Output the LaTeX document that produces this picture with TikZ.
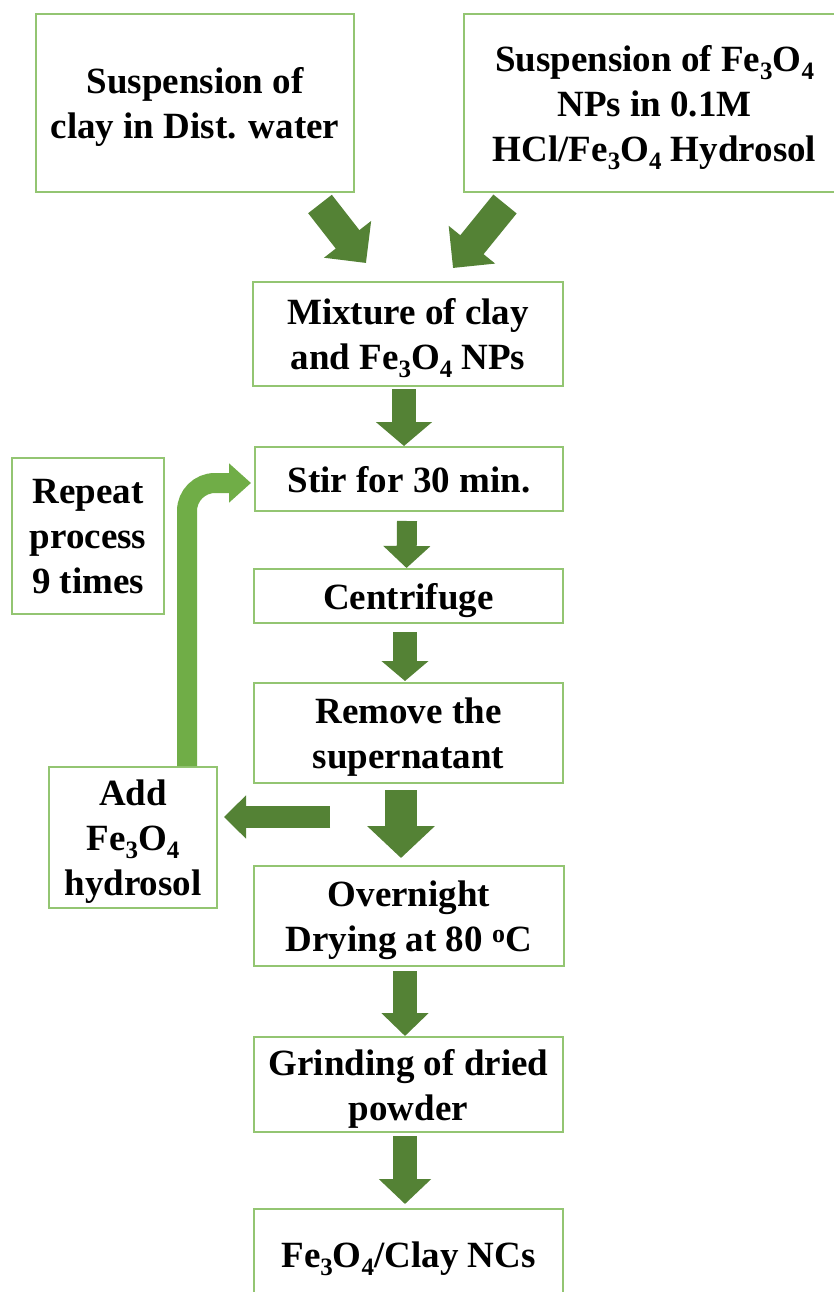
\documentclass[tikz,border=0pt]{standalone}
\usepackage{fontspec}
\setmainfont{Liberation Serif}
\usetikzlibrary{arrows.meta,calc}
\definecolor{boxg}{HTML}{93C572}
\definecolor{darkg}{HTML}{548235}
\definecolor{lightg}{HTML}{70AD47}
\newcommand\subs[1]{\raisebox{-0.22em}{\fontsize{25}{25}\selectfont #1}}
\newcommand\FeO{Fe\subs{3}O\subs{4}}
\begin{document}
\begin{tikzpicture}[x=1pt,y=-1pt,
  box/.style={draw=boxg, line width=2pt, fill=white, inner sep=0pt, align=center,
    text depth=0pt, font=\fontsize{37}{45}\selectfont\bfseries},
  blkarr/.style n args={3}{draw=darkg, line width=#1, -{Triangle[width=#2, length=#3]}},
  looparr/.style={draw=lightg, line width=20pt, rounded corners=28pt, -{Triangle[width=38pt, length=22pt]}}
]
\useasboundingbox (0,0) rectangle (834,1292);
\clip (0,0) rectangle (834,1292);
\fill[white] (0,0) rectangle (834,1292);

% boxes
\node[box, minimum width=318pt, minimum height=178pt] (A) at (195,103) {Suspension of\\clay in Dist. water};
\node[box, minimum width=381pt, minimum height=178pt] (B) at (654.5,103) {Suspension of \FeO\\NPs in 0.1M\\HCl/\FeO\ Hydrosol};
\node[box, minimum width=310pt, minimum height=104pt] (C) at (408,334) {Mixture of clay\\and \FeO\ NPs};
\node[box, minimum width=308pt, minimum height=64pt] (D) at (409,479) {Stir for 30 min.};
\node[box, minimum width=309pt, minimum height=54pt] (E) at (408.5,596) {Centrifuge};
\node[box, minimum width=309pt, minimum height=100pt] (F) at (408.5,733) {Remove the\\supernatant};
\node[box, minimum width=310pt, minimum height=100pt] (G) at (409,916) {Overnight\\Drying at 80 \textsuperscript{o}C};
\node[box, minimum width=309pt, minimum height=95pt] (H) at (408.5,1084.5) {Grinding of dried\\powder};
\node[box, minimum width=309pt, minimum height=91pt] (I) at (408.5,1254.5) {\FeO/Clay NCs};
\node[box, minimum width=152pt, minimum height=156pt] (R) at (88,536) {Repeat\\process\\9 times};
\node[box, minimum width=168pt, minimum height=141pt] (add) at (133,837.5) {Add\\\FeO\\hydrosol};

% diagonal arrows
\draw[blkarr={30pt}{58pt}{30pt}] ($(A.south east)+(-35,11)$) -- ($(C.north west)+(114,-18)$);
\draw[blkarr={30pt}{58pt}{30pt}] ($(B.south west)+(42,11)$) -- ($(C.north east)+(-111,-13)$);

% vertical arrows
\draw[blkarr={24pt}{55pt}{24pt}] ($(C.south)+(-4,2)$) -- ($(D.north)+(-5,0)$);
\draw[blkarr={20pt}{46pt}{22pt}] ($(D.south)+(-2,9)$) -- ($(E.north)+(-2,0)$);
\draw[blkarr={24pt}{46pt}{20pt}] ($(E.south)+(-3.5,8)$) -- ($(F.north)+(-3.5,-1)$);
\draw[blkarr={32pt}{66pt}{32pt}] ($(F.south)+(-7.5,6)$) -- ($(G.north)+(-8,-7)$);
\draw[blkarr={24pt}{46pt}{23pt}] ($(G.south)+(-4,4)$) -- ($(H.north)+(-3.5,0)$);
\draw[blkarr={24pt}{51pt}{25pt}] ($(H.south)+(-3.5,3)$) -- ($(I.north)+(-3.5,-4)$);

% left arrow to Add box
\coordinate (lt) at ($(F.south west)+(77,33)$);
\coordinate (lh) at ($(add.east)+(6,0)$);
\draw[blkarr={22pt}{42pt}{22pt}] (lt) -- (lh |- lt);

% loop arrow
\draw[looparr] ($(add.north east)+(-31,0)$) |- ($(D.west)+(-3,4)$);
\end{tikzpicture}
\end{document}
